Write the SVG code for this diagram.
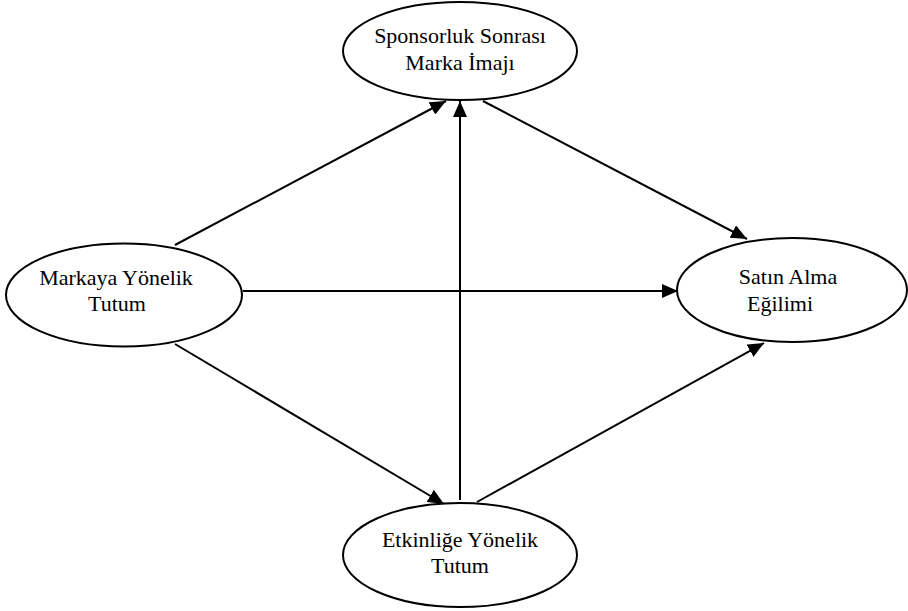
<svg xmlns="http://www.w3.org/2000/svg" width="908" height="611" viewBox="0 0 908 611">
<style>
.node ellipse{fill:#fff;stroke:#000;stroke-width:2}
.edges line{stroke:#000;stroke-width:2;marker-end:url(#ah)}
</style>
<defs>
<marker id="ah" markerUnits="userSpaceOnUse" markerWidth="16" markerHeight="14" refX="16" refY="7" orient="auto">
<path d="M0,0 L16,7 L0,14 Z" fill="#000"/>
</marker>
</defs>
<rect width="908" height="611" fill="#fff"/>
<g class="edges">
<line x1="175" y1="245" x2="446" y2="101"/>
<line x1="483" y1="101" x2="747" y2="239"/>
<line x1="243" y1="291" x2="678" y2="291"/>
<line x1="175" y1="344" x2="444" y2="504"/>
<line x1="460" y1="500" x2="460" y2="101"/>
<line x1="477" y1="502" x2="764" y2="343"/>
</g>
<g font-family="'Liberation Serif', 'Times New Roman', serif" font-size="22" fill="#000" text-anchor="middle">
<g id="sponsorluk" class="node">
<ellipse cx="460" cy="51" rx="117" ry="49"/>
<text x="460" y="43">Sponsorluk Sonrası</text>
<text x="460" y="70">Marka İmajı</text>
</g>
<g id="markaya" class="node">
<ellipse cx="124" cy="295" rx="118" ry="51.5"/>
<text x="116" y="285">Markaya Yönelik</text>
<text x="117" y="311">Tutum</text>
</g>
<g id="satin" class="node">
<ellipse cx="792" cy="290" rx="115" ry="52"/>
<text x="788" y="284">Satın Alma</text>
<text x="780" y="311">Eğilimi</text>
</g>
<g id="etkinlige" class="node">
<ellipse cx="460" cy="555" rx="117" ry="52"/>
<text x="460" y="547">Etkinliğe Yönelik</text>
<text x="460" y="573">Tutum</text>
</g>
</g>
</svg>
